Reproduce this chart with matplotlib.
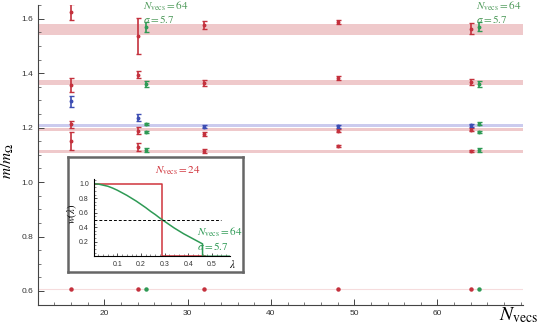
import numpy as np
import matplotlib
matplotlib.use("Agg")
import matplotlib.pyplot as plt
from matplotlib.ticker import MultipleLocator

plt.rcParams['mathtext.fontset'] = 'stix'
plt.rcParams['font.family'] = ['Liberation Sans', 'DejaVu Sans']

RED = '#c4313d'
BLUE = '#3c4db3'
GREEN = '#2e9a55'

# red (24-style) points: N_vecs, value, error
red_x = [16, 16, 16, 16, 24, 24, 24, 24, 32, 32, 32, 32, 48, 48, 48, 48, 64, 64, 64, 64]
red_y = [1.626, 1.356, 1.213, 1.152, 1.537, 1.394, 1.189, 1.130, 1.578, 1.364, 1.178, 1.115,
         1.588, 1.382, 1.189, 1.133, 1.563, 1.367, 1.193, 1.115]
red_e = [0.029, 0.025, 0.013, 0.033, 0.065, 0.013, 0.014, 0.015, 0.015, 0.010, 0.007, 0.008,
         0.008, 0.008, 0.005, 0.004, 0.020, 0.010, 0.006, 0.004]

blue_x = [16, 24, 32, 48, 64]
blue_y = [1.297, 1.237, 1.204, 1.205, 1.208]
blue_e = [0.020, 0.013, 0.007, 0.006, 0.007]

green_x = [25, 25, 25, 25, 25, 65, 65, 65, 65, 65]
green_y = [1.570, 1.361, 1.213, 1.184, 1.118, 1.571, 1.360, 1.214, 1.184, 1.117]
green_e = [0.017, 0.010, 0.005, 0.004, 0.008, 0.017, 0.010, 0.005, 0.004, 0.008]

low_red_x = [16, 24, 32, 48, 64]
low_green_x = [25, 65]
low_y = 0.609

red_bands = [(1.541, 1.581), (1.357, 1.374), (1.186, 1.199), (1.108, 1.119)]
blue_bands = [(1.204, 1.214)]

# inset: weight functions
lam_red = [0.0, 0.29, 0.29, 0.47]
w_red = [1.0, 1.0, 0.0, 0.0]
lam_green = [0.0, 0.02, 0.04, 0.06, 0.08, 0.10, 0.12, 0.14, 0.16, 0.18, 0.20, 0.22, 0.24,
             0.26, 0.28, 0.30, 0.32, 0.34, 0.36, 0.38, 0.40, 0.42, 0.44, 0.46, 0.46, 0.58]
w_green = [1.0, 0.995, 0.98, 0.965, 0.94, 0.91, 0.875, 0.84, 0.80, 0.76, 0.715, 0.67, 0.62,
           0.575, 0.525, 0.48, 0.435, 0.39, 0.35, 0.31, 0.275, 0.24, 0.205, 0.17, 0.0, 0.0]

fig = plt.figure(figsize=(5.4, 3.26), dpi=100)
ax = fig.add_axes([0.070, 0.064, 0.899, 0.921])

for lo, hi in red_bands:
    ax.axhspan(lo, hi, color='#efc9cb', lw=0, zorder=1)
for lo, hi in blue_bands:
    ax.axhspan(lo, hi, color='#cbcbee', lw=0, zorder=1)
ax.axhline(low_y, color='#f6dcdd', lw=0.8, zorder=1)

kw = dict(fmt='o', ms=1.8, elinewidth=1.2, capsize=1.8, capthick=1.0, zorder=3)
ax.errorbar(red_x, red_y, yerr=red_e, color=RED, **kw)
ax.errorbar(blue_x, blue_y, yerr=blue_e, color=BLUE, **kw)
ax.errorbar(green_x, green_y, yerr=green_e, color=GREEN, **kw)
ax.plot(low_red_x, [low_y] * len(low_red_x), 'o', ms=2.2, color=RED, zorder=3)
ax.plot(low_green_x, [low_y] * len(low_green_x), 'o', ms=2.2, color=GREEN, zorder=3)

for xt in [24.6, 64.6]:
    ax.text(xt, 1.672, r'$N_{\mathrm{vecs}} = 64$' + '\n' + r'$\sigma = 5.7$', color='#4e9a5a',
            fontsize=8, va='top', ha='left', linespacing=1.05)

ax.set_xlim(12, 70.3)
ax.set_ylim(0.548, 1.651)
ax.spines['top'].set_visible(False)
ax.spines['right'].set_visible(False)
for s in ['left', 'bottom']:
    ax.spines[s].set_color('#444444')
    ax.spines[s].set_linewidth(0.8)
ax.xaxis.set_major_locator(MultipleLocator(10))
ax.xaxis.set_minor_locator(MultipleLocator(2))
ax.yaxis.set_major_locator(MultipleLocator(0.2))
ax.yaxis.set_minor_locator(MultipleLocator(0.05))
ax.set_xticks([20, 30, 40, 50, 60])
ax.tick_params(which='both', direction='in', colors='#444444', labelsize=6, labelcolor='#333333')
ax.tick_params(which='major', length=4, width=0.7)
ax.tick_params(which='minor', length=2, width=0.5)
fig.text(0.997, 0.003, r'$N_{\mathrm{vecs}}$', fontsize=14, ha='right', va='bottom')
ax.set_ylabel(r'$m/m_{\Omega}$', fontsize=11)
ax.yaxis.set_label_coords(-0.045, 0.48)

# inset frame
frame = fig.add_axes([0.126, 0.166, 0.324, 0.352])
frame.set_xticks([])
frame.set_yticks([])
frame.set_facecolor('white')
for s in frame.spines.values():
    s.set_color('#666666')
    s.set_linewidth(1.8)
frame.set_zorder(5)

ins = fig.add_axes([0.1735, 0.214, 0.252, 0.238])
ins.set_zorder(6)
ins.patch.set_alpha(0)
ins.plot(lam_red, w_red, color='#d0343c', lw=1.1)
ins.plot(lam_green, w_green, color='#2e9a55', lw=1.1)
ins.plot([0, 0.54], [0.5, 0.5], color='black', ls=(0, (3, 2)), lw=0.7)
ins.set_xlim(0, 0.575)
ins.set_ylim(0, 1.07)
ins.spines['top'].set_visible(False)
ins.spines['right'].set_visible(False)
ins.set_xticks([0.1, 0.2, 0.3, 0.4, 0.5])
ins.set_yticks([0.2, 0.4, 0.6, 0.8, 1.0])
ins.xaxis.set_minor_locator(MultipleLocator(0.02))
ins.yaxis.set_minor_locator(MultipleLocator(0.05))
ins.tick_params(which='both', direction='in', labelsize=5, colors='#333333')
ins.tick_params(which='major', length=2.5, width=0.6)
ins.tick_params(which='minor', length=1.2, width=0.4)
ins.set_ylabel(r'$w(\lambda)$', fontsize=7.5)
ins.yaxis.set_label_coords(-0.11, 0.55)
ins.text(0.585, -0.03, r'$\lambda$', fontsize=8, ha='center', va='top')
ins.text(0.26, 1.09, r'$N_{\mathrm{vecs}} = 24$', color='#d0343c', fontsize=8, va='bottom', ha='left')
ins.text(0.435, 0.42, r'$N_{\mathrm{vecs}} = 64$' + '\n' + r'$\sigma = 5.7$', color='#2e9a55',
         fontsize=8, va='top', ha='left', linespacing=1.05)

plt.savefig('out.png', dpi=100)
